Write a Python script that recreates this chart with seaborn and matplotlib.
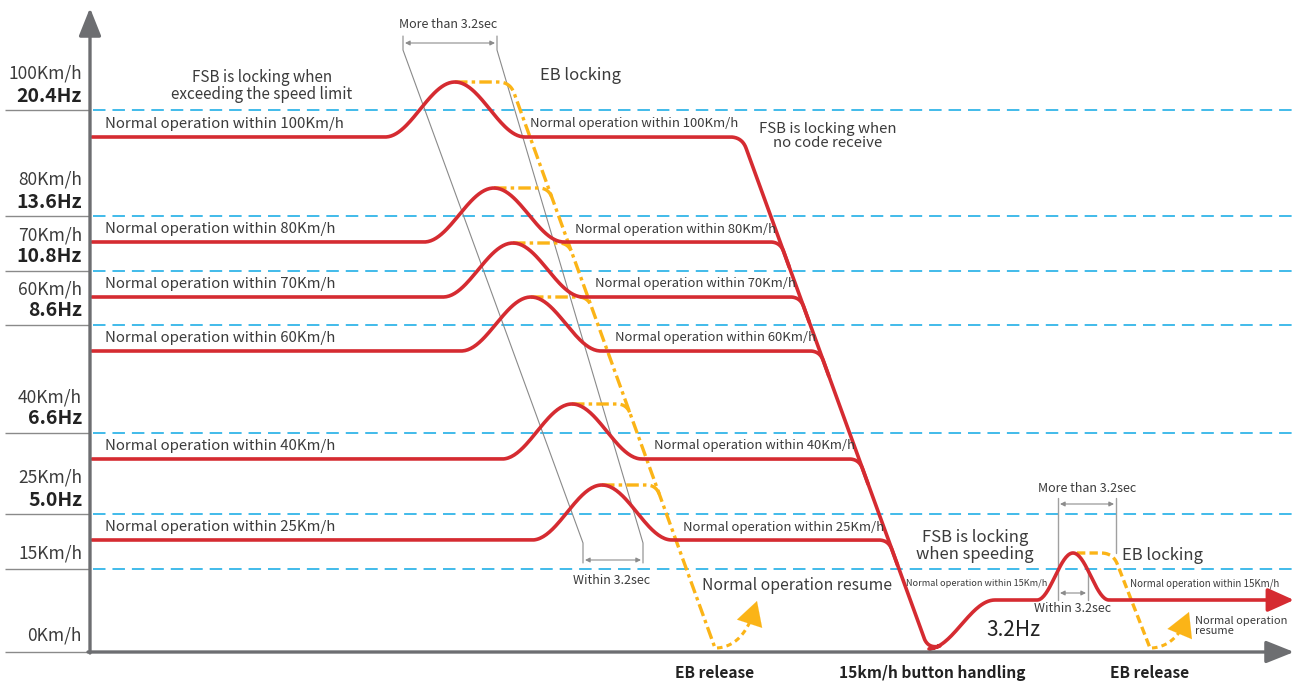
"""
Speed supervision diagram: FSB / EB locking behaviour per speed code.
"""

import numpy as np
import pandas as pd
import matplotlib
matplotlib.use("Agg")
import matplotlib.pyplot as plt
import seaborn as sns

# ---- data (diagram units: x = time, y = speed level, drawn top-down) ----
speed_labels = ["100Km/h", "80Km/h", "70Km/h", "60Km/h", "40Km/h", "25Km/h", "15Km/h", "0Km/h"]
freq_labels = ["20.4Hz", "13.6Hz", "10.8Hz", "8.6Hz", "6.6Hz", "5.0Hz", "", ""]
limit_level = [110, 216, 271, 325, 433, 514, 569, 652]

normal_names = ["100Km/h", "80Km/h", "70Km/h", "60Km/h", "40Km/h", "25Km/h"]
normal_level = [137, 242, 297, 351, 459, 540]
peak_level = [82, 188, 243, 297, 404, 485]
peak_time = [455, 494, 513, 531, 572, 602]

# no-code descent (red) and EB descent (yellow)
red_drop = [(742, 137), (928, 649)]
eb_drop = [(530, 137), (715, 648)]

# 15 km/h button handling part
low_level = 600
low_peak = 553
low_peak_time = 1073
low_rise_end = 995
eb2_path = [(1077, 553), (1113, 553), (1150, 648)]

# EB release -> resume arrows: start, bend, tip
resume_arrows = [[(717, 648), (746, 646), (757, 601)],
                 [(1152, 648), (1178, 646), (1189, 612)]]

bottom_events = ["EB release", "15km/h button handling", "EB release"]
bottom_event_time = [715, 932, 1150]

RED = "#d52b31"
YELLOW = "#fbb417"
BLUE = "#33b5e8"
AXIS = "#6d6e71"
THIN = "#8a8a8a"
TXT = "#3b3b3b"
HALF = 70

sns.set_theme(style="white")
plt.rcParams["font.family"] = ["Noto Sans CJK KR", "DejaVu Sans"]
plt.rcParams["lines.scale_dashes"] = False


def bell(x, center, half, base, peak):
    t = np.clip((x - center) / half, -1, 1)
    return base + (peak - base) * 0.5 * (1 + np.cos(np.pi * t))


def rounded(pts, r, n=12):
    pts = np.asarray(pts, float)
    out = [pts[:1]]
    for i in range(1, len(pts) - 1):
        p0, p1, p2 = pts[i - 1], pts[i], pts[i + 1]
        d1 = (p1 - p0) / np.linalg.norm(p1 - p0)
        d2 = (p2 - p1) / np.linalg.norm(p2 - p1)
        a, b = p1 - d1 * r, p1 + d2 * r
        t = np.linspace(0, 1, n)[:, None]
        out.append((1 - t) ** 2 * a + 2 * t * (1 - t) * p1 + t ** 2 * b)
    out.append(pts[-1:])
    return np.vstack(out)


def quad(a, c, b, n=40):
    a, c, b = (np.asarray(p, float) for p in (a, c, b))
    t = np.linspace(0, 1, n)[:, None]
    return (1 - t) ** 2 * a + 2 * t * (1 - t) * c + t ** 2 * b


def along(line, y):
    (x0, y0), (x1, y1) = line
    return x0 + (x1 - x0) * (y - y0) / (y1 - y0)


# ---- build red curves ----
rows = []
for i, (y, py, px) in enumerate(zip(normal_level, peak_level, peak_time)):
    mx = along(red_drop, y)
    xs = np.linspace(92, mx - 20, 500)
    seg = np.column_stack([xs, bell(xs, px, HALF, y, py)])
    if i == 0:
        corner = rounded([(mx - 20, y), (mx, y), red_drop[1], (red_drop[1][0] + 8, red_drop[1][1] - 2)], 12)
        xr = np.linspace(red_drop[1][0] + 1, low_rise_end, 60)
        rise = red_drop[1][1] - (red_drop[1][1] - low_level) * 0.5 * (
            1 - np.cos(np.pi * (xr - red_drop[1][0]) / (low_rise_end - red_drop[1][0])))
        xl = np.linspace(low_rise_end, 1282, 300)
        tail = np.vstack([np.column_stack([xr, rise]),
                          np.column_stack([xl, bell(xl, low_peak_time, 36, low_level, low_peak)])])
        seg = np.vstack([seg, corner[1:-1], tail])
    else:
        corner = rounded([(mx - 20, y), (mx, y), (along(red_drop, y + 25), y + 25)], 10)
        seg = np.vstack([seg, corner[1:]])
    rows.append(pd.DataFrame({"x": seg[:, 0], "y": seg[:, 1], "curve": i}))
red_df = pd.concat(rows, ignore_index=True)

fig = plt.figure(figsize=(12.94, 6.87), dpi=100)
ax = fig.add_axes([0, 0, 1, 1])

# speed limit lines
ax.hlines(limit_level, 5, 90, color=THIN, lw=1.0)
ax.hlines(limit_level[:-1], 93, 1294, color=BLUE, lw=1.3, linestyles=[(0, (9, 5))])

# thin time brackets
for xt, xb in [(403, 583), (497, 643)]:
    ax.plot([xt, xt, xb, xb], [36, 50, 543, 563], color=THIN, lw=0.8)
for xv, y0, y1 in [(1058, 498, 600), (1116, 498, 553), (1088, 572, 600)]:
    ax.plot([xv, xv], [y0, y1], color="#a0a0a0", lw=1.0)
for x0, x1, yy in [(405, 495, 43), (585, 641, 560), (1060, 1114, 504), (1060, 1086, 593)]:
    ax.annotate("", xy=(x1, yy), xytext=(x0, yy),
                arrowprops=dict(arrowstyle="<|-|>", color="#8c8c8c", lw=0.8,
                                mutation_scale=7, shrinkA=0, shrinkB=0))

# EB (yellow) lines
eb_dash = (0, (9, 3, 2.5, 3))
for i, (py, px) in enumerate(zip(peak_level, peak_time)):
    ex = along(eb_drop, py)
    if i == 0:
        pts = rounded([(px, py), (ex, py), eb_drop[1]], 12)
    else:
        pts = rounded([(px, py), (ex, py), (along(eb_drop, py + 22), py + 22)], 10)[:-1]
    ax.plot(pts[:, 0], pts[:, 1], color=YELLOW, lw=2.4, ls=eb_dash, solid_capstyle="butt")
pts = rounded(eb2_path, 12)
ax.plot(pts[:, 0], pts[:, 1], color=YELLOW, lw=2.4, ls=(0, (6, 3)))

for a, c, b in resume_arrows:
    curve = quad(a, c, b)
    ax.plot(curve[:-7, 0], curve[:-7, 1], color=YELLOW, lw=2.2, ls=(0, (4, 3)))
    ax.annotate("", xy=b, xytext=tuple(curve[-10]),
                arrowprops=dict(arrowstyle="-|>,head_length=0.9,head_width=0.5", color=YELLOW,
                                lw=0.1, mutation_scale=19, shrinkA=0, shrinkB=0))

# red speed curves
sns.lineplot(data=red_df, x="x", y="y", units="curve", estimator=None, sort=False,
             color=RED, lw=2.6, ax=ax, legend=False)
ax.annotate("", xy=(1294, low_level), xytext=(1270, low_level),
            arrowprops=dict(arrowstyle="-|>,head_length=1.0,head_width=0.45", color=RED,
                            lw=2.6, mutation_scale=16, shrinkA=0, shrinkB=0))

# axes arrows
ax.annotate("", xy=(90, 8), xytext=(90, 653),
            arrowprops=dict(arrowstyle="-|>,head_length=1.0,head_width=0.4", color=AXIS,
                            lw=2.4, mutation_scale=17, shrinkA=0, shrinkB=0))
ax.annotate("", xy=(1294, 652), xytext=(88, 652),
            arrowprops=dict(arrowstyle="-|>,head_length=1.0,head_width=0.4", color=AXIS,
                            lw=2.4, mutation_scale=17, shrinkA=0, shrinkB=0))

# y labels
for name, freq, lv in zip(speed_labels, freq_labels, limit_level):
    if freq:
        ax.text(82, lv - 36, name, ha="right", va="center", fontsize=12.5, color=TXT)
        ax.text(82, lv - 14, freq, ha="right", va="center", fontsize=14, color="#222222",
                fontweight="bold")
    else:
        ax.text(82, lv - 16, name, ha="right", va="center", fontsize=12.5, color=TXT)

# normal-operation labels
for name, y in zip(normal_names, normal_level):
    ax.text(105, y - 13, f"Normal operation within {name}", ha="left", va="center",
            fontsize=10.8, color=TXT)
    ax.text(along(red_drop, y) - 4, y - 13, f"Normal operation within {name}", ha="right",
            va="center", fontsize=9.4, color=TXT)

notes = [
    (262, 86, "FSB is locking when\nexceeding the speed limit", 11, "center"),
    (540, 76, "EB locking", 12, "left"),
    (828, 136, "FSB is locking when\nno code receive", 10.8, "center"),
    (702, 585, "Normal operation resume", 11.3, "left"),
    (975, 546, "FSB is locking\nwhen speeding", 12, "center"),
    (1122, 555, "EB locking", 12, "left"),
    (448, 25, "More than 3.2sec", 9, "center"),
    (612, 580, "Within 3.2sec", 9, "center"),
    (1087, 489, "More than 3.2sec", 9, "center"),
    (1073, 609, "Within 3.2sec", 9, "center"),
    (1047, 584, "Normal operation within 15Km/h", 6.6, "right"),
    (1130, 584, "Normal operation within 15Km/h", 7, "left"),
    (1195, 626, "Normal operation\nresume", 8, "left"),
]
for x, y, s, fs, ha in notes:
    ax.text(x, y, s, ha=ha, va="center", fontsize=fs, color=TXT, linespacing=1.05)

ax.text(1013, 630, "3.2Hz", ha="center", va="center", fontsize=15, color="#222222")
for s, x in zip(bottom_events, bottom_event_time):
    ax.text(x, 673, s, ha="center", va="center", fontsize=11.2, color="#222222",
            fontweight="bold")

ax.set_xlim(0, 1294)
ax.set_ylim(687, 0)
ax.axis("off")
fig.savefig("out.png", dpi=100)
